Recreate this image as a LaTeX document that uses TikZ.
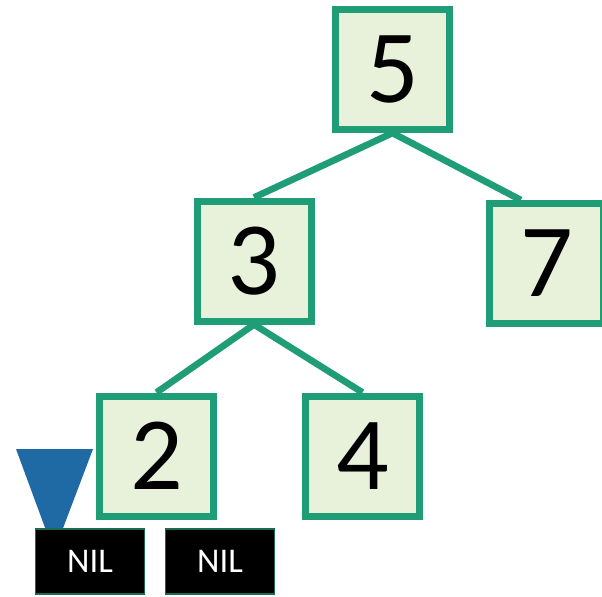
\documentclass[tikz,border=0pt]{standalone}
\usepackage{fontspec}
\setmainfont{Carlito}
\usepackage{tikz}
\usetikzlibrary{arrows.meta}
\usetikzlibrary{calc}
\definecolor{keyline}{HTML}{1F9D77}
\definecolor{keyfill}{HTML}{E8F2DB}
\definecolor{nilline}{HTML}{1A6B50}
\definecolor{ptrblue}{HTML}{1F6AA5}

\begin{document}
\begin{tikzpicture}[x=0.75pt,y=-0.75pt,
	key/.style={shape=rectangle,draw=keyline,fill=keyfill,line width=5.25pt,minimum width=85.5pt,minimum height=90pt,inner sep=0pt,font=\fontsize{78}{78}\selectfont},
	nil/.style={shape=rectangle,draw=nilline,fill=black,line width=1.2pt,minimum width=81.5pt,minimum height=49pt,inner sep=0pt,text=white,font=\fontsize{26}{26}\selectfont},
	edge/.style={draw=keyline,line width=5pt}]
	\clip (0,0) rectangle (602,596);
	\draw (392.5,69.5) node (n5) [key] {5};
	\draw (254,261) node (n3) [key] {3};
	\draw (546.5,263.5) node (n7) [key] {7};
	\draw (156.5,456) node (n2) [key] {2};
	\draw (362.5,456) node (n4) [key] {4};
	\fill[ptrblue] (16,449) -- (93,449) -- (54,552) -- cycle;
	\draw (90,561.5) node (nilA) [nil] {NIL};
	\draw (220,561.5) node (nilB) [nil] {NIL};
	\draw[edge] (n5.south) -- (n3.north);
	\draw[edge] (n5.south) -- (n7.112);
	\draw[edge] (n3.south) -- (n2.north);
	\draw[edge] (n3.south) -- (n4.north);
\end{tikzpicture}
\end{document}
